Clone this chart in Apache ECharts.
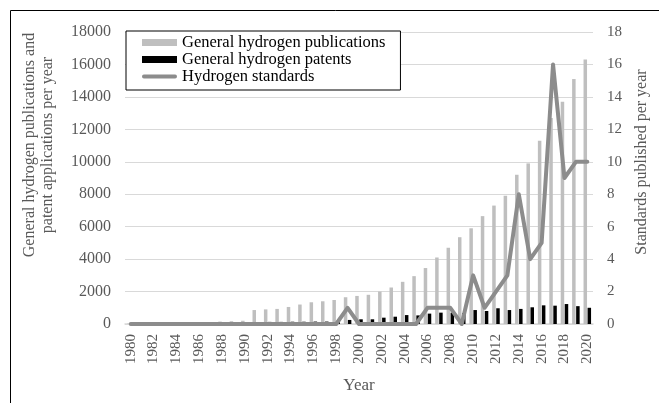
<!DOCTYPE html>
<html>
<head>
<meta charset="utf-8">
<script src="https://cdn.jsdelivr.net/npm/echarts@6/dist/echarts.min.js"></script>
<style>
html, body { margin: 0; padding: 0; background: #fff; }
#main { width: 659px; height: 403px; }
</style>
</head>
<body>
<div id="main"></div>
<script>
var years = [];
for (var y = 1980; y <= 2020; y++) years.push(String(y));

// 1980 .. 2020
var publications = [20, 20, 25, 30, 40, 50, 100, 120, 150, 170, 200,
	860, 900, 930, 1050, 1200, 1340, 1400, 1480, 1650, 1730,
	1800, 2000, 2250, 2600, 2950, 3450, 4100, 4700, 5350, 5900,
	6650, 7300, 7900, 9200, 9900, 11300, 12700, 13700, 15100, 16300];
var patents = [10, 10, 15, 20, 30, 40, 60, 80, 90, 100, 110,
	120, 130, 130, 140, 140, 150, 150, 150, 250, 290,
	290, 390, 450, 550, 530, 640, 700, 700, 680, 860,
	800, 970, 860, 930, 1030, 1150, 1130, 1230, 1100, 1000];
var standards = [0, 0, 0, 0, 0, 0, 0, 0, 0, 0, 0,
	0, 0, 0, 0, 0, 0, 0, 0, 1, 0,
	0, 0, 0, 0, 0, 1, 1, 1, 0, 3,
	1, 2, 3, 8, 4, 5, 16, 9, 10, 10];

var font = 'Liberation Serif';
var grey = '#595959';
var chart = echarts.init(document.getElementById('main'));

chart.setOption({
	animation: false,
	textStyle: { fontFamily: font },
	graphic: [{
		type: 'rect',
		shape: { x: 10.5, y: 10.5, width: 700, height: 450 },
		style: { fill: 'none', stroke: '#000', lineWidth: 1 },
		z: -1
	}, {
		// left axis title
		type: 'text',
		x: 39, y: 145,
		rotation: Math.PI / 2,
		style: {
			text: 'General hydrogen publications and\npatent applications per year',
			font: '16px "Liberation Serif"',
			fill: grey,
			lineHeight: 18,
			align: 'center',
			verticalAlign: 'middle'
		}
	}, {
		// right axis title
		type: 'text',
		x: 642, y: 162,
		rotation: Math.PI / 2,
		style: {
			text: 'Standards published per year',
			font: '16px "Liberation Serif"',
			fill: grey,
			align: 'center',
			verticalAlign: 'middle'
		}
	}],
	grid: { left: 125, right: 66, top: 32, bottom: 79 },
	legend: {
		orient: 'vertical',
		left: 126,
		top: 31,
		padding: [3, 15, 5, 16],
		itemGap: 0,
		itemWidth: 35,
		itemHeight: 7,
		borderColor: '#000',
		borderWidth: 1,
		backgroundColor: '#fff',
		textStyle: { fontFamily: font, fontSize: 16.5, color: '#000' },
		data: [
			{ name: 'General hydrogen publications', icon: 'rect' },
			{ name: 'General hydrogen patents', icon: 'rect' },
			{ name: 'Hydrogen standards', icon: 'path://M2,0 L35,0 A2,2 0 0 1 35,4 L2,4 A2,2 0 0 1 2,0 Z' }
		]
	},
	xAxis: {
		type: 'category',
		data: years,
		name: 'Year',
		nameLocation: 'middle',
		nameGap: 53,
		nameTextStyle: { fontFamily: font, fontSize: 17, color: grey },
		axisLine: { lineStyle: { color: '#d9d9d9', width: 1.5 } },
		axisTick: { show: false },
		axisLabel: { interval: 1, rotate: 90, fontFamily: font, fontSize: 15, color: grey, margin: 10 }
	},
	yAxis: [{
		type: 'value',
		min: 0, max: 18000, interval: 2000,
		axisLine: { show: false },
		axisTick: { show: false },
		splitLine: { lineStyle: { color: '#d9d9d9', width: 1 } },
		axisLabel: {
			fontFamily: font, fontSize: 16, color: grey, margin: 14,
			formatter: function (v) { return String(v); }
		}
	}, {
		type: 'value',
		min: 0, max: 18, interval: 2,
		axisLine: { show: false },
		axisTick: { show: false },
		splitLine: { show: false },
		axisLabel: { fontFamily: font, fontSize: 15, color: grey, margin: 14 }
	}],
	series: [{
		name: 'General hydrogen publications',
		type: 'bar',
		data: publications,
		barWidth: 3.5,
		barGap: '15%',
		itemStyle: { color: '#bfbfbf' }
	}, {
		name: 'General hydrogen patents',
		type: 'bar',
		data: patents,
		barWidth: 3.5,
		itemStyle: { color: '#000' }
	}, {
		name: 'Hydrogen standards',
		type: 'line',
		yAxisIndex: 1,
		data: standards,
		symbol: 'none',
		lineStyle: { color: '#8c8c8c', width: 4, cap: 'round', join: 'round' },
		itemStyle: { color: '#8c8c8c' },
		z: 3
	}]
});
</script>
</body>
</html>
